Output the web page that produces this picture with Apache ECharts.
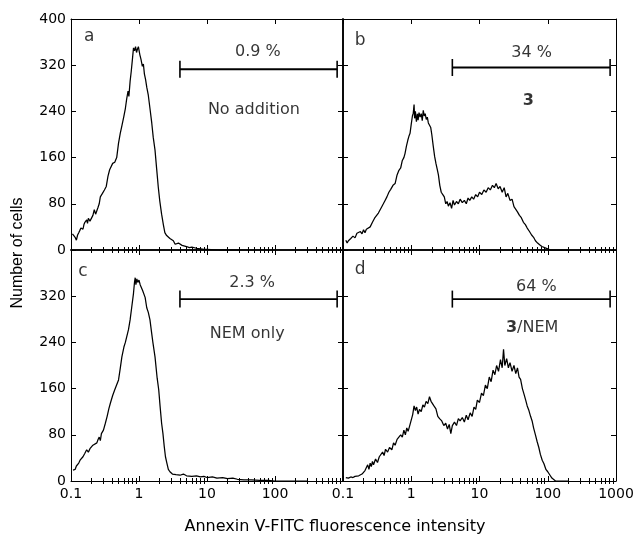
<!DOCTYPE html>
<html>
<head>
<meta charset="utf-8">
<script src="https://cdn.jsdelivr.net/npm/echarts@6/dist/echarts.min.js"></script>
<style>html,body{margin:0;padding:0;background:#fff}#chart{width:634px;height:537px}</style>
</head>
<body>
<div id="chart"></div>
<script>
// ---- data (x = Annexin V-FITC fluorescence intensity, y = number of cells) ----
var histA = [[0.105,28],[0.11,31],[0.115,22],[0.12,17],[0.125,26],[0.13,30],[0.135,34],[0.14,38],[0.15,36],[0.155,44],[0.16,48],[0.17,52],[0.175,46],[0.18,55],[0.19,50],[0.2,48],[0.21,60],[0.22,70],[0.23,62],[0.24,64],[0.25,74],[0.26,80],[0.27,92],[0.29,98],[0.31,104],[0.33,110],[0.35,128],[0.37,139],[0.39,136],[0.41,150],[0.44,152],[0.47,160],[0.5,185],[0.53,202],[0.56,215],[0.6,232],[0.63,245],[0.66,262],[0.69,275],[0.71,266],[0.74,292],[0.77,310],[0.8,330],[0.83,350],[0.86,345],[0.89,352],[0.92,342],[0.95,348],[0.98,352],[1.0,346],[1.03,338],[1.07,330],[1.12,318],[1.16,322],[1.2,305],[1.25,295],[1.3,282],[1.37,268],[1.45,245],[1.54,220],[1.62,195],[1.72,173],[1.82,140],[1.92,109],[2.02,85],[2.15,62],[2.28,44],[2.4,30],[2.55,25],[2.7,22],[2.85,20],[3.0,22],[3.2,16],[3.4,10],[3.6,8],[3.8,12],[4.0,15],[4.3,8],[4.6,7],[5.0,6],[5.5,4],[6.0,5],[7.0,3],[8.0,2],[9.0,1],[10,1],[15,0],[30,0]];
var histB = [[0.11,17],[0.115,12],[0.12,16],[0.13,20],[0.14,24],[0.15,21],[0.16,29],[0.17,26],[0.18,32],[0.19,28],[0.2,35],[0.21,30],[0.22,36],[0.23,38],[0.25,40],[0.27,48],[0.29,55],[0.31,58],[0.33,64],[0.35,62],[0.37,75],[0.39,80],[0.41,85],[0.44,92],[0.47,100],[0.5,105],[0.54,112],[0.58,115],[0.62,130],[0.66,138],[0.7,142],[0.74,155],[0.78,160],[0.81,167],[0.85,180],[0.89,190],[0.93,198],[0.96,202],[1.0,218],[1.04,232],[1.07,237],[1.1,252],[1.12,228],[1.15,240],[1.19,222],[1.23,236],[1.26,225],[1.3,238],[1.35,230],[1.4,236],[1.45,224],[1.5,242],[1.55,232],[1.6,236],[1.66,226],[1.72,230],[1.78,220],[1.85,222],[1.93,212],[2.0,200],[2.1,180],[2.2,162],[2.3,150],[2.4,140],[2.5,130],[2.62,112],[2.75,100],[2.9,96],[3.05,92],[3.2,80],[3.35,84],[3.5,76],[3.7,82],[3.9,72],[4.1,86],[4.3,78],[4.6,84],[4.9,80],[5.2,88],[5.6,82],[6.0,86],[6.4,80],[6.8,90],[7.2,86],[7.7,92],[8.2,88],[8.8,96],[9.4,92],[10,100],[10.8,96],[11.6,104],[12.5,100],[13.4,108],[14.4,104],[15.5,112],[16.5,108],[17.5,115],[18.8,106],[20,110],[21.5,100],[23,108],[24.5,92],[26,98],[28,86],[30,88],[32,75],[34,72],[36,66],[38.5,60],[41,56],[44,48],[47,44],[50,38],[54,32],[58,26],[62,22],[66,16],[71,12],[76,9],[82,6],[90,4],[100,2],[110,0],[200,0]];
var histC = [[0.107,19],[0.11,22],[0.115,20],[0.12,26],[0.125,24],[0.13,31],[0.136,36],[0.14,33],[0.15,42],[0.16,48],[0.17,54],[0.18,50],[0.19,56],[0.2,58],[0.21,62],[0.22,60],[0.24,66],[0.25,72],[0.26,76],[0.27,70],[0.28,82],[0.3,88],[0.32,100],[0.34,112],[0.36,125],[0.38,135],[0.41,148],[0.44,158],[0.46,155],[0.5,175],[0.53,195],[0.56,215],[0.6,232],[0.63,240],[0.66,240],[0.7,262],[0.74,279],[0.78,300],[0.83,325],[0.86,345],[0.88,352],[0.9,340],[0.93,350],[0.96,344],[1.0,348],[1.04,340],[1.08,342],[1.13,330],[1.18,328],[1.23,318],[1.3,300],[1.37,292],[1.45,279],[1.52,260],[1.6,240],[1.72,215],[1.85,178],[1.95,158],[2.04,130],[2.15,100],[2.25,82],[2.35,60],[2.45,42],[2.57,31],[2.7,20],[2.85,16],[3.1,12],[3.5,11],[4.0,10],[4.5,12],[5.0,9],[6.0,8],[7.0,9],[8.0,7],[9.0,8],[10,6],[12,7],[14,5],[17,6],[20,4],[24,5],[28,3],[35,2],[45,2],[60,1],[80,1],[100,0],[300,0]];
var histD = [[0.11,6],[0.12,5],[0.13,7],[0.14,6],[0.15,8],[0.16,5],[0.17,9],[0.18,8],[0.19,12],[0.2,10],[0.21,18],[0.22,15],[0.23,28],[0.24,20],[0.25,31],[0.26,25],[0.27,34],[0.28,28],[0.3,38],[0.32,32],[0.34,42],[0.36,40],[0.38,50],[0.4,44],[0.42,55],[0.45,50],[0.48,58],[0.52,54],[0.55,66],[0.58,62],[0.62,72],[0.66,70],[0.7,80],[0.74,76],[0.78,88],[0.82,80],[0.86,92],[0.9,86],[0.95,96],[1.0,94],[1.05,115],[1.1,130],[1.15,122],[1.2,128],[1.26,116],[1.32,124],[1.4,120],[1.48,132],[1.56,128],[1.65,138],[1.75,134],[1.85,146],[1.95,138],[2.05,140],[2.15,130],[2.3,125],[2.45,112],[2.6,108],[2.8,104],[3.0,96],[3.2,100],[3.4,90],[3.6,98],[3.8,82],[4.0,96],[4.3,102],[4.6,96],[4.9,108],[5.2,104],[5.6,110],[6.0,102],[6.4,114],[6.8,106],[7.3,118],[7.8,112],[8.3,128],[8.8,124],[9.3,140],[10,136],[10.7,152],[11.4,148],[12.2,166],[13,160],[13.9,180],[14.8,172],[15.8,192],[16.8,184],[17.8,200],[19,190],[20.3,210],[21.5,196],[22.5,228],[23.5,200],[25,212],[26.5,196],[28,205],[30,190],[32,200],[34,186],[36,196],[38,180],[40,176],[42.5,160],[45,150],[47.5,140],[50,130],[53,122],[56,112],[59,104],[62,92],[66,80],[70,68],[74,58],[78,46],[83,36],[88,30],[94,20],[100,16],[108,10],[115,5],[122,2],[130,0],[200,0]];

var panelLetters = ['a', 'b', 'c', 'd'];
var percentLabels = ['0.9 %', '34 %', '2.3 %', '64 %'];
var treatmentLabels = ['No addition', '{b|3}', 'NEM only', '{b|3}/NEM'];
var gateRange = [4, 820];             // gated region (fluorescence)
var gateLevel = [313, 316, 315, 315]; // gate marker height (cells)
var xTickLabels = ['0.1', '1', '10', '100', '1000'];
var minorSteps = [2, 3, 4, 5, 6, 7, 8, 9];
var yTicks = [0, 80, 160, 240, 320, 400];

// annotation anchors in data space [x, y]
var letterPos = [[0.185, 370], [0.178, 362], [0.15, 363], [0.178, 366]];
var percentPos = [[56, 343], [58, 341], [46, 343], [68, 337]];
var treatPos = [[49, 242], [52, 258], [39, 255], [59, 266]];

// ---- layout ----
var FONT = 'DejaVu Sans, Liberation Sans, sans-serif';
var FONT2 = 'Liberation Sans, Arial, sans-serif';
var grids = [
  {left: 71, top: 19, width: 272, height: 231, outerBoundsMode: 'none', containLabel: false},
  {left: 343, top: 19, width: 273, height: 231, outerBoundsMode: 'none', containLabel: false},
  {left: 71, top: 250, width: 272, height: 231, outerBoundsMode: 'none', containLabel: false},
  {left: 343, top: 250, width: 273, height: 231, outerBoundsMode: 'none', containLabel: false}
];
var hists = [histA, histB, histC, histD];

// minor tick positions in log10 space (decoration only)
var minorLog = [];
for (var d = -1; d < 3; d++) {
  minorSteps.forEach(function (m) { minorLog.push(d + Math.log10(m)); });
}

function fmtX(v) {
  var e = Math.round(Math.log10(v));
  return xTickLabels[e + 1] || '';
}

var xAxes = [], yAxes = [], series = [];
grids.forEach(function (g, i) {
  var isBottom = i >= 2, isRight = (i % 2) === 1;
  var tickStyle = {color: '#000', width: 1};
  var base = xAxes.length;
  ['bottom', 'top'].forEach(function (pos) {
    var showLab = (pos === 'bottom' && isBottom);
    var thick = (pos === 'bottom' && !isBottom) || (pos === 'top' && isBottom);
    xAxes.push({
      type: 'log', logBase: 10, min: 0.1, max: 1000, splitNumber: 4,
      gridIndex: i, position: pos,
      axisLine: {show: true, onZero: false, lineStyle: {color: '#000', width: thick ? 1.6 : 1}},
      axisTick: {show: true, inside: true, length: 5, lineStyle: tickStyle},
      minorTick: {show: false},
      splitLine: {show: false},
      axisLabel: {
        show: showLab, color: '#000', fontSize: 14, fontFamily: FONT, margin: 6,
        showMinLabel: true, showMaxLabel: true, hideOverlap: false,
        formatter: function (v) {
          if (i === 2 && v > 500) return '';
          return fmtX(v);
        }
      }
    });
  });
  ['bottom', 'top'].forEach(function (pos) {
    xAxes.push({
      type: 'value', min: -1, max: 3, gridIndex: i, position: pos,
      axisLine: {show: false},
      axisTick: {show: true, inside: true, length: 3, customValues: minorLog, lineStyle: tickStyle},
      axisLabel: {show: false}, splitLine: {show: false}
    });
  });
  ['left', 'right'].forEach(function (pos) {
    var showLab = (pos === 'left' && !isRight);
    var thick = (pos === 'right' && !isRight) || (pos === 'left' && isRight);
    yAxes.push({
      type: 'value', min: yTicks[0], max: yTicks[yTicks.length - 1], interval: yTicks[1] - yTicks[0],
      gridIndex: i, position: pos,
      axisLine: {show: true, onZero: false, lineStyle: {color: '#000', width: thick ? 1.6 : 1}},
      axisTick: {show: true, inside: true, length: 5, lineStyle: tickStyle},
      splitLine: {show: false},
      axisLabel: {
        show: showLab, color: '#000', fontSize: 14, fontFamily: FONT, margin: 5,
        showMinLabel: true, showMaxLabel: true,
        formatter: function (v) {
          if (i === 2 && v >= 400) return '';
          return String(v);
        }
      }
    });
  });

  var xi = base, yi = i * 2;
  series.push({
    type: 'line', xAxisIndex: xi, yAxisIndex: yi, data: hists[i],
    showSymbol: false, symbol: 'none', animation: false, silent: true,
    lineStyle: {color: '#000', width: 1.25}
  });
  series.push({
    type: 'line', xAxisIndex: xi, yAxisIndex: yi,
    data: [[gateRange[0], gateLevel[i]], [gateRange[1], gateLevel[i]]],
    showSymbol: true, symbol: 'rect', symbolSize: [1.6, 17], animation: false, silent: true,
    lineStyle: {color: '#000', width: 1.8}, itemStyle: {color: '#000'}
  });
  var txt = [
    {value: letterPos[i], t: panelLetters[i], fs: 17},
    {value: percentPos[i], t: percentLabels[i], fs: 16},
    {value: treatPos[i], t: treatmentLabels[i], fs: 16}
  ];
  txt.forEach(function (dd) {
    series.push({
      type: 'scatter', xAxisIndex: xi, yAxisIndex: yi, symbolSize: 0, animation: false, silent: true,
      data: [{value: dd.value}],
      label: {
        show: true, position: 'inside', formatter: dd.t, color: '#000',
        fontSize: dd.fs, fontFamily: FONT, align: 'center', verticalAlign: 'middle',
        rich: {b: {fontWeight: 'bold', fontSize: dd.fs, fontFamily: FONT, color: '#000'}}
      }
    });
  });
});

var chart = echarts.init(document.getElementById('chart'), null, {renderer: 'canvas'});
chart.setOption({
  backgroundColor: '#fff',
  animation: false,
  grid: grids,
  xAxis: xAxes,
  yAxis: yAxes,
  series: series,
  graphic: [
    {type: 'text', x: 335, y: 527, style: {text: 'Annexin V-FITC fluorescence intensity', fontSize: 16, fontFamily: FONT, fill: '#000', align: 'center', verticalAlign: 'middle'}},
    {type: 'text', x: 18, y: 253, rotation: Math.PI / 2, style: {text: 'Number of cells', fontSize: 16, fontFamily: FONT2, fill: '#000', align: 'center', verticalAlign: 'middle'}}
  ]
});
</script>
</body>
</html>
